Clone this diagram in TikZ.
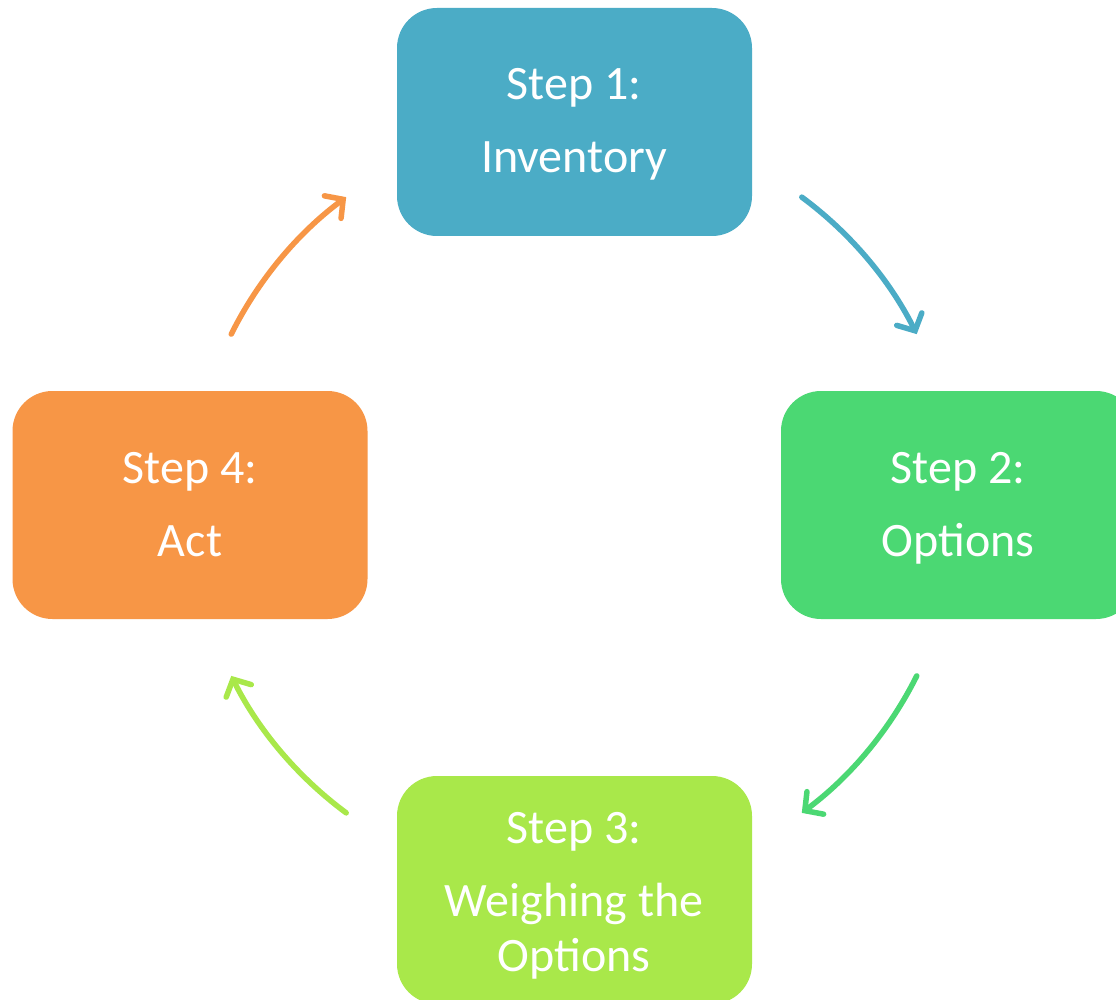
\documentclass[tikz,border=0pt]{standalone}
\usepackage{fontspec}
\setmainfont{Carlito}
\usetikzlibrary{arrows.meta}
\definecolor{cblue}{HTML}{4BACC6}
\definecolor{cgreen}{HTML}{4BD873}
\definecolor{clime}{HTML}{A9E84A}
\definecolor{corange}{HTML}{F79646}
\begin{document}
\begin{tikzpicture}[x=1pt,y=-1pt,
  box/.style={rounded corners=40pt, minimum width=355pt, minimum height=228pt, inner sep=0pt, draw=none},
  txt/.style={anchor=base, text=white, font=\fontsize{48}{58}\selectfont, inner sep=0pt},
  arr/.style={line width=5.5pt, line cap=round, -{Straight Barb[length=13pt,width=28pt,line cap=round]}}]
\useasboundingbox (0,0) rectangle (1116,1000);
\clip (0,0) rectangle (1116,1000);
\fill[white] (0,0) rectangle (1116,1000);
% boxes
\node[box, fill=cblue] (s1) at (574.5,122) {};
\node[box, fill=cgreen] (s2) at (958.5,505) {};
\node[box, fill=clime] (s3) at (574.5,890) {};
\node[box, fill=corange] (s4) at (190,505) {};
% texts
\node[txt] (t1a) at (574,100) {Step 1:};
\node[txt] (t1b) at (574,173) {Inventory};
\node[txt] (t2a) at (958,483) {Step 2:};
\node[txt] (t2b) at (958,556) {Options};
\node[txt] (t3a) at (574,843) {Step 3:};
\node[txt] (t3b) at (574,916) {Weighing the};
\node[txt] (t3c) at (574,971) {Options};
\node[txt] (t4a) at (190,483) {Step 4:};
\node[txt] (t4b) at (190,556) {Act};
% arrows on a circle round the centre
\coordinate (O) at (574,505);
\path (O) ++(53.5:383pt) coordinate (a1);
\path (O) ++(-26.5:383pt) coordinate (a2);
\path (O) ++(233.5:383pt) coordinate (a3);
\path (O) ++(153.5:383pt) coordinate (a4);
\draw[arr, draw=cblue] (a1) arc[start angle=53.5, end angle=26.5, radius=383pt];
\draw[arr, draw=cgreen] (a2) arc[start angle=-26.5, end angle=-53.5, radius=383pt];
\draw[arr, draw=clime] (a3) arc[start angle=233.5, end angle=206.5, radius=383pt];
\draw[arr, draw=corange] (a4) arc[start angle=153.5, end angle=126.5, radius=383pt];
\end{tikzpicture}
\end{document}
